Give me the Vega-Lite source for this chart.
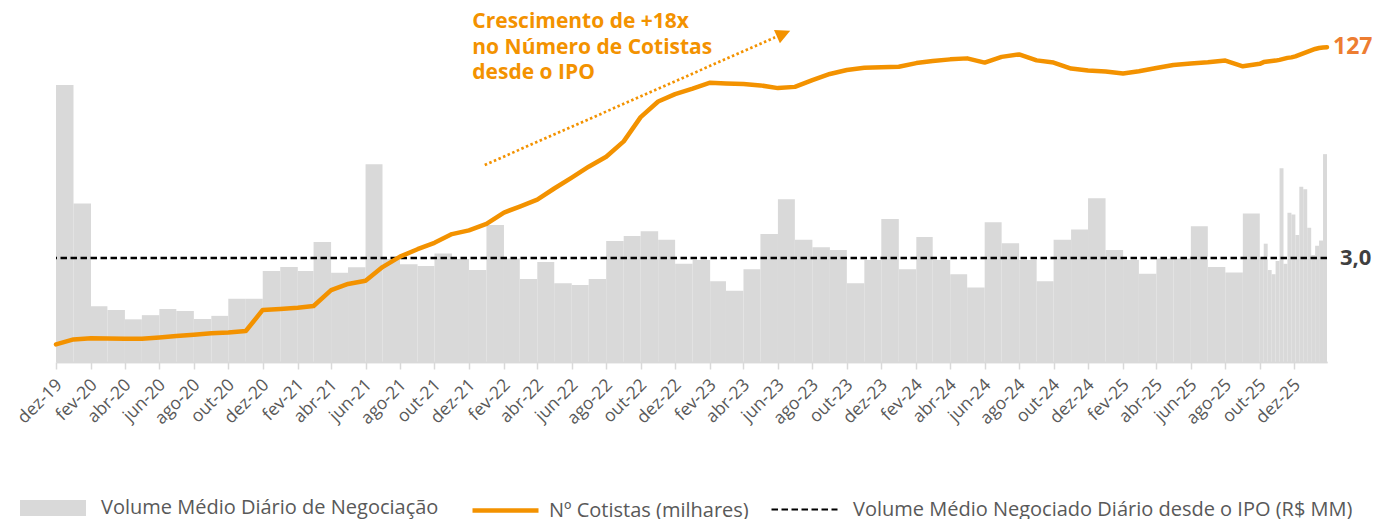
{
  "$schema": "https://vega.github.io/schema/vega-lite/v6.json",
  "width": 1271,
  "height": 347,
  "autosize": {"type": "none"},
  "padding": {"left": 56, "top": 15, "right": 47, "bottom": 157},
  "background": "white",
  "config": {
    "view": {"stroke": null},
    "font": "Open Sans",
    "axis": {"grid": false, "labelOverlap": false, "labelFlush": false, "labelBound": false},
    "axisX": {
      "labelAngle": -45,
      "labelAlign": "right",
      "labelBaseline": "middle",
      "labelFontSize": 17.5,
      "labelColor": "#595959",
      "labelFont": "Open Sans",
      "labelPadding": 13,
      "labelOffset": 3,
      "domainColor": "#D9D9D9",
      "domainWidth": 1.5,
      "tickColor": "#D9D9D9",
      "tickSize": 7,
      "tickWidth": 1.5
    },
    "legend": {"labelFontSize": 20, "labelColor": "#595959", "labelFont": "Open Sans", "labelLimit": 0, "labelOffset": 14, "title": null}
  },
  "datasets": {
    "vol": [
      {"inicio": "2019-12-01T00:00:00", "fim": "2020-01-01T00:00:00", "volume": 7.98},
      {"inicio": "2020-01-01T00:00:00", "fim": "2020-02-01T00:00:00", "volume": 4.57},
      {"inicio": "2020-02-01T00:00:00", "fim": "2020-03-01T00:00:00", "volume": 1.61},
      {"inicio": "2020-03-01T00:00:00", "fim": "2020-04-01T00:00:00", "volume": 1.50},
      {"inicio": "2020-04-01T00:00:00", "fim": "2020-05-01T00:00:00", "volume": 1.23},
      {"inicio": "2020-05-01T00:00:00", "fim": "2020-06-01T00:00:00", "volume": 1.35},
      {"inicio": "2020-06-01T00:00:00", "fim": "2020-07-01T00:00:00", "volume": 1.53},
      {"inicio": "2020-07-01T00:00:00", "fim": "2020-08-01T00:00:00", "volume": 1.47},
      {"inicio": "2020-08-01T00:00:00", "fim": "2020-09-01T00:00:00", "volume": 1.24},
      {"inicio": "2020-09-01T00:00:00", "fim": "2020-10-01T00:00:00", "volume": 1.33},
      {"inicio": "2020-10-01T00:00:00", "fim": "2020-11-01T00:00:00", "volume": 1.82},
      {"inicio": "2020-11-01T00:00:00", "fim": "2020-12-01T00:00:00", "volume": 1.82},
      {"inicio": "2020-12-01T00:00:00", "fim": "2021-01-01T00:00:00", "volume": 2.62},
      {"inicio": "2021-01-01T00:00:00", "fim": "2021-02-01T00:00:00", "volume": 2.74},
      {"inicio": "2021-02-01T00:00:00", "fim": "2021-03-01T00:00:00", "volume": 2.62},
      {"inicio": "2021-03-01T00:00:00", "fim": "2021-04-01T00:00:00", "volume": 3.46},
      {"inicio": "2021-04-01T00:00:00", "fim": "2021-05-01T00:00:00", "volume": 2.57},
      {"inicio": "2021-05-01T00:00:00", "fim": "2021-06-01T00:00:00", "volume": 2.73},
      {"inicio": "2021-06-01T00:00:00", "fim": "2021-07-01T00:00:00", "volume": 5.70},
      {"inicio": "2021-07-01T00:00:00", "fim": "2021-08-01T00:00:00", "volume": 2.97},
      {"inicio": "2021-08-01T00:00:00", "fim": "2021-09-01T00:00:00", "volume": 2.82},
      {"inicio": "2021-09-01T00:00:00", "fim": "2021-10-01T00:00:00", "volume": 2.77},
      {"inicio": "2021-10-01T00:00:00", "fim": "2021-11-01T00:00:00", "volume": 3.13},
      {"inicio": "2021-11-01T00:00:00", "fim": "2021-12-01T00:00:00", "volume": 2.97},
      {"inicio": "2021-12-01T00:00:00", "fim": "2022-01-01T00:00:00", "volume": 2.65},
      {"inicio": "2022-01-01T00:00:00", "fim": "2022-02-01T00:00:00", "volume": 3.95},
      {"inicio": "2022-02-01T00:00:00", "fim": "2022-03-01T00:00:00", "volume": 2.98},
      {"inicio": "2022-03-01T00:00:00", "fim": "2022-04-01T00:00:00", "volume": 2.39},
      {"inicio": "2022-04-01T00:00:00", "fim": "2022-05-01T00:00:00", "volume": 2.88},
      {"inicio": "2022-05-01T00:00:00", "fim": "2022-06-01T00:00:00", "volume": 2.27},
      {"inicio": "2022-06-01T00:00:00", "fim": "2022-07-01T00:00:00", "volume": 2.22},
      {"inicio": "2022-07-01T00:00:00", "fim": "2022-08-01T00:00:00", "volume": 2.39},
      {"inicio": "2022-08-01T00:00:00", "fim": "2022-09-01T00:00:00", "volume": 3.49},
      {"inicio": "2022-09-01T00:00:00", "fim": "2022-10-01T00:00:00", "volume": 3.63},
      {"inicio": "2022-10-01T00:00:00", "fim": "2022-11-01T00:00:00", "volume": 3.77},
      {"inicio": "2022-11-01T00:00:00", "fim": "2022-12-01T00:00:00", "volume": 3.52},
      {"inicio": "2022-12-01T00:00:00", "fim": "2023-01-01T00:00:00", "volume": 2.83},
      {"inicio": "2023-01-01T00:00:00", "fim": "2023-02-01T00:00:00", "volume": 2.94},
      {"inicio": "2023-02-01T00:00:00", "fim": "2023-03-01T00:00:00", "volume": 2.33},
      {"inicio": "2023-03-01T00:00:00", "fim": "2023-04-01T00:00:00", "volume": 2.05},
      {"inicio": "2023-04-01T00:00:00", "fim": "2023-05-01T00:00:00", "volume": 2.67},
      {"inicio": "2023-05-01T00:00:00", "fim": "2023-06-01T00:00:00", "volume": 3.69},
      {"inicio": "2023-06-01T00:00:00", "fim": "2023-07-01T00:00:00", "volume": 4.69},
      {"inicio": "2023-07-01T00:00:00", "fim": "2023-08-01T00:00:00", "volume": 3.52},
      {"inicio": "2023-08-01T00:00:00", "fim": "2023-09-01T00:00:00", "volume": 3.31},
      {"inicio": "2023-09-01T00:00:00", "fim": "2023-10-01T00:00:00", "volume": 3.23},
      {"inicio": "2023-10-01T00:00:00", "fim": "2023-11-01T00:00:00", "volume": 2.27},
      {"inicio": "2023-11-01T00:00:00", "fim": "2023-12-01T00:00:00", "volume": 2.94},
      {"inicio": "2023-12-01T00:00:00", "fim": "2024-01-01T00:00:00", "volume": 4.12},
      {"inicio": "2024-01-01T00:00:00", "fim": "2024-02-01T00:00:00", "volume": 2.67},
      {"inicio": "2024-02-01T00:00:00", "fim": "2024-03-01T00:00:00", "volume": 3.60},
      {"inicio": "2024-03-01T00:00:00", "fim": "2024-04-01T00:00:00", "volume": 2.94},
      {"inicio": "2024-04-01T00:00:00", "fim": "2024-05-01T00:00:00", "volume": 2.53},
      {"inicio": "2024-05-01T00:00:00", "fim": "2024-06-01T00:00:00", "volume": 2.15},
      {"inicio": "2024-06-01T00:00:00", "fim": "2024-07-01T00:00:00", "volume": 4.03},
      {"inicio": "2024-07-01T00:00:00", "fim": "2024-08-01T00:00:00", "volume": 3.42},
      {"inicio": "2024-08-01T00:00:00", "fim": "2024-09-01T00:00:00", "volume": 2.94},
      {"inicio": "2024-09-01T00:00:00", "fim": "2024-10-01T00:00:00", "volume": 2.33},
      {"inicio": "2024-10-01T00:00:00", "fim": "2024-11-01T00:00:00", "volume": 3.52},
      {"inicio": "2024-11-01T00:00:00", "fim": "2024-12-01T00:00:00", "volume": 3.82},
      {"inicio": "2024-12-01T00:00:00", "fim": "2025-01-01T00:00:00", "volume": 4.72},
      {"inicio": "2025-01-01T00:00:00", "fim": "2025-02-01T00:00:00", "volume": 3.23},
      {"inicio": "2025-02-01T00:00:00", "fim": "2025-03-01T00:00:00", "volume": 2.94},
      {"inicio": "2025-03-01T00:00:00", "fim": "2025-04-01T00:00:00", "volume": 2.54},
      {"inicio": "2025-04-01T00:00:00", "fim": "2025-05-01T00:00:00", "volume": 2.98},
      {"inicio": "2025-05-01T00:00:00", "fim": "2025-06-01T00:00:00", "volume": 2.98},
      {"inicio": "2025-06-01T00:00:00", "fim": "2025-07-01T00:00:00", "volume": 3.91},
      {"inicio": "2025-07-01T00:00:00", "fim": "2025-08-01T00:00:00", "volume": 2.74},
      {"inicio": "2025-08-01T00:00:00", "fim": "2025-09-01T00:00:00", "volume": 2.58},
      {"inicio": "2025-09-01T00:00:00", "fim": "2025-10-01T00:00:00", "volume": 4.28},
      {"inicio": "2025-10-01T00:00:00", "fim": "2025-10-08T00:00:00", "volume": 3.00},
      {"inicio": "2025-10-08T00:00:00", "fim": "2025-10-15T00:00:00", "volume": 3.41},
      {"inicio": "2025-10-15T00:00:00", "fim": "2025-10-22T00:00:00", "volume": 2.65},
      {"inicio": "2025-10-22T00:00:00", "fim": "2025-10-29T00:00:00", "volume": 2.53},
      {"inicio": "2025-10-29T00:00:00", "fim": "2025-11-05T00:00:00", "volume": 2.91},
      {"inicio": "2025-11-05T00:00:00", "fim": "2025-11-12T00:00:00", "volume": 5.58},
      {"inicio": "2025-11-12T00:00:00", "fim": "2025-11-19T00:00:00", "volume": 2.83},
      {"inicio": "2025-11-19T00:00:00", "fim": "2025-11-26T00:00:00", "volume": 4.30},
      {"inicio": "2025-11-26T00:00:00", "fim": "2025-12-03T00:00:00", "volume": 4.25},
      {"inicio": "2025-12-03T00:00:00", "fim": "2025-12-10T00:00:00", "volume": 3.66},
      {"inicio": "2025-12-10T00:00:00", "fim": "2025-12-17T00:00:00", "volume": 5.05},
      {"inicio": "2025-12-17T00:00:00", "fim": "2025-12-24T00:00:00", "volume": 4.98},
      {"inicio": "2025-12-24T00:00:00", "fim": "2025-12-31T00:00:00", "volume": 3.87},
      {"inicio": "2025-12-31T00:00:00", "fim": "2026-01-07T00:00:00", "volume": 3.08},
      {"inicio": "2026-01-07T00:00:00", "fim": "2026-01-14T00:00:00", "volume": 3.35},
      {"inicio": "2026-01-14T00:00:00", "fim": "2026-01-21T00:00:00", "volume": 3.50},
      {"inicio": "2026-01-21T00:00:00", "fim": "2026-01-28T00:00:00", "volume": 5.99}
    ],
    "cot": [
      {"data": "2019-12-01T00:00:00", "cotistas": 7.1},
      {"data": "2020-01-01T00:00:00", "cotistas": 9.1},
      {"data": "2020-02-01T00:00:00", "cotistas": 9.6},
      {"data": "2020-03-01T00:00:00", "cotistas": 9.5},
      {"data": "2020-04-01T00:00:00", "cotistas": 9.4},
      {"data": "2020-05-01T00:00:00", "cotistas": 9.4},
      {"data": "2020-06-01T00:00:00", "cotistas": 9.9},
      {"data": "2020-07-01T00:00:00", "cotistas": 10.5},
      {"data": "2020-08-01T00:00:00", "cotistas": 11.0},
      {"data": "2020-09-01T00:00:00", "cotistas": 11.6},
      {"data": "2020-10-01T00:00:00", "cotistas": 11.9},
      {"data": "2020-11-01T00:00:00", "cotistas": 12.5},
      {"data": "2020-12-01T00:00:00", "cotistas": 21.0},
      {"data": "2021-01-01T00:00:00", "cotistas": 21.4},
      {"data": "2021-02-01T00:00:00", "cotistas": 21.9},
      {"data": "2021-03-01T00:00:00", "cotistas": 22.6},
      {"data": "2021-04-01T00:00:00", "cotistas": 29.0},
      {"data": "2021-05-01T00:00:00", "cotistas": 31.5},
      {"data": "2021-06-01T00:00:00", "cotistas": 32.8},
      {"data": "2021-07-01T00:00:00", "cotistas": 38.3},
      {"data": "2021-08-01T00:00:00", "cotistas": 42.5},
      {"data": "2021-09-01T00:00:00", "cotistas": 45.5},
      {"data": "2021-10-01T00:00:00", "cotistas": 48.1},
      {"data": "2021-11-01T00:00:00", "cotistas": 51.6},
      {"data": "2021-12-01T00:00:00", "cotistas": 53.1},
      {"data": "2022-01-01T00:00:00", "cotistas": 55.7},
      {"data": "2022-02-01T00:00:00", "cotistas": 60.3},
      {"data": "2022-03-01T00:00:00", "cotistas": 62.7},
      {"data": "2022-04-01T00:00:00", "cotistas": 65.5},
      {"data": "2022-05-01T00:00:00", "cotistas": 70.0},
      {"data": "2022-06-01T00:00:00", "cotistas": 74.4},
      {"data": "2022-07-01T00:00:00", "cotistas": 78.8},
      {"data": "2022-08-01T00:00:00", "cotistas": 82.8},
      {"data": "2022-09-01T00:00:00", "cotistas": 89.0},
      {"data": "2022-10-01T00:00:00", "cotistas": 98.8},
      {"data": "2022-11-01T00:00:00", "cotistas": 105.1},
      {"data": "2022-12-01T00:00:00", "cotistas": 108.1},
      {"data": "2023-01-01T00:00:00", "cotistas": 110.3},
      {"data": "2023-02-01T00:00:00", "cotistas": 112.7},
      {"data": "2023-03-01T00:00:00", "cotistas": 112.4},
      {"data": "2023-04-01T00:00:00", "cotistas": 112.2},
      {"data": "2023-05-01T00:00:00", "cotistas": 111.6},
      {"data": "2023-06-01T00:00:00", "cotistas": 110.5},
      {"data": "2023-07-01T00:00:00", "cotistas": 111.0},
      {"data": "2023-08-01T00:00:00", "cotistas": 113.7},
      {"data": "2023-09-01T00:00:00", "cotistas": 116.2},
      {"data": "2023-10-01T00:00:00", "cotistas": 117.8},
      {"data": "2023-11-01T00:00:00", "cotistas": 118.7},
      {"data": "2023-12-01T00:00:00", "cotistas": 118.9},
      {"data": "2024-01-01T00:00:00", "cotistas": 119.1},
      {"data": "2024-02-01T00:00:00", "cotistas": 120.6},
      {"data": "2024-03-01T00:00:00", "cotistas": 121.4},
      {"data": "2024-04-01T00:00:00", "cotistas": 122.1},
      {"data": "2024-05-01T00:00:00", "cotistas": 122.5},
      {"data": "2024-06-01T00:00:00", "cotistas": 120.8},
      {"data": "2024-07-01T00:00:00", "cotistas": 123.1},
      {"data": "2024-08-01T00:00:00", "cotistas": 124.1},
      {"data": "2024-09-01T00:00:00", "cotistas": 121.7},
      {"data": "2024-10-01T00:00:00", "cotistas": 120.8},
      {"data": "2024-11-01T00:00:00", "cotistas": 118.4},
      {"data": "2024-12-01T00:00:00", "cotistas": 117.6},
      {"data": "2025-01-01T00:00:00", "cotistas": 117.2},
      {"data": "2025-02-01T00:00:00", "cotistas": 116.4},
      {"data": "2025-03-01T00:00:00", "cotistas": 117.3},
      {"data": "2025-04-01T00:00:00", "cotistas": 118.6},
      {"data": "2025-05-01T00:00:00", "cotistas": 119.8},
      {"data": "2025-06-01T00:00:00", "cotistas": 120.4},
      {"data": "2025-07-01T00:00:00", "cotistas": 120.9},
      {"data": "2025-08-01T00:00:00", "cotistas": 121.6},
      {"data": "2025-09-01T00:00:00", "cotistas": 119.3},
      {"data": "2025-10-01T00:00:00", "cotistas": 120.3},
      {"data": "2025-10-08T00:00:00", "cotistas": 121.0},
      {"data": "2025-10-15T00:00:00", "cotistas": 121.2},
      {"data": "2025-10-22T00:00:00", "cotistas": 121.4},
      {"data": "2025-10-29T00:00:00", "cotistas": 121.6},
      {"data": "2025-11-05T00:00:00", "cotistas": 121.9},
      {"data": "2025-11-12T00:00:00", "cotistas": 122.3},
      {"data": "2025-11-19T00:00:00", "cotistas": 122.7},
      {"data": "2025-11-26T00:00:00", "cotistas": 122.9},
      {"data": "2025-12-03T00:00:00", "cotistas": 123.3},
      {"data": "2025-12-10T00:00:00", "cotistas": 123.9},
      {"data": "2025-12-17T00:00:00", "cotistas": 124.5},
      {"data": "2025-12-24T00:00:00", "cotistas": 125.1},
      {"data": "2025-12-31T00:00:00", "cotistas": 125.7},
      {"data": "2026-01-07T00:00:00", "cotistas": 126.3},
      {"data": "2026-01-14T00:00:00", "cotistas": 126.7},
      {"data": "2026-01-21T00:00:00", "cotistas": 126.9},
      {"data": "2026-01-28T00:00:00", "cotistas": 127.0}
    ]
  },
  "layer": [
    {
      "layer": [
        {
          "data": {"name": "vol"},
          "mark": {"type": "bar"},
          "encoding": {
            "x": {
              "field": "inicio",
              "type": "temporal",
              "scale": {
                "domain": [{"year": 2019, "month": 12, "date": 1}, {"year": 2026, "month": 1, "date": 28}],
                "nice": false
              },
              "axis": {
                "title": null,
                "orient": "bottom",
                "values": [
                  {"year": 2019, "month": 12, "date": 1},
                  {"year": 2020, "month": 4, "date": 1}, {"year": 2020, "month": 8, "date": 1}, {"year": 2020, "month": 12, "date": 1},
                  {"year": 2021, "month": 4, "date": 1}, {"year": 2021, "month": 8, "date": 1}, {"year": 2021, "month": 12, "date": 1},
                  {"year": 2022, "month": 4, "date": 1}, {"year": 2022, "month": 8, "date": 1}, {"year": 2022, "month": 12, "date": 1},
                  {"year": 2023, "month": 4, "date": 1}, {"year": 2023, "month": 8, "date": 1}, {"year": 2023, "month": 12, "date": 1},
                  {"year": 2024, "month": 4, "date": 1}, {"year": 2024, "month": 8, "date": 1}, {"year": 2024, "month": 12, "date": 1},
                  {"year": 2025, "month": 4, "date": 1}, {"year": 2025, "month": 8, "date": 1}, {"year": 2025, "month": 12, "date": 1}
                ],
                "labelExpr": "['jan','fev','mar','abr','mai','jun','jul','ago','set','out','nov','dez'][month(datum.value)] + '-' + timeFormat(datum.value, '%y')",
                "labelOverlap": false,
                "grid": false
              }
            },
            "x2": {"field": "fim"},
            "y": {
              "field": "volume",
              "type": "quantitative",
              "scale": {"domain": [0, 10], "nice": false, "zero": true},
              "axis": null
            },
            "y2": {"datum": 0},
            "fill": {
              "datum": "Volume Médio Diário de Negociação",
              "type": "nominal",
              "scale": {"range": ["#D9D9D9"]},
              "legend": {
                "orient": "none",
                "legendX": -36,
                "legendY": 460,
                "symbolType": "M-1,-0.24L1,-0.24L1,0.24L-1,0.24Z",
                "symbolSize": 4356,
                "symbolStrokeWidth": 0,
                "labelOffset": 15
              }
            }
          }
        },
        {
          "data": {"values": [{}]},
          "mark": {"type": "rule", "strokeWidth": 2.5, "color": "#000000"},
          "encoding": {
            "y": {"datum": 3, "type": "quantitative"},
            "strokeDash": {
              "datum": "Volume Médio Negociado Diário desde o IPO (R$ MM)",
              "type": "nominal",
              "scale": {"range": [[6.5, 3.5]]},
              "legend": {
                "orient": "none",
                "legendX": 714,
                "legendY": 460,
                "symbolType": "stroke",
                "symbolSize": 4356,
                "symbolStrokeWidth": 2.2,
                "symbolStrokeColor": "#000000",
                "labelOffset": 14
              }
            }
          }
        },
        {
          "data": {"values": [{}]},
          "mark": {"type": "text", "text": "3,0", "align": "left", "baseline": "middle", "dx": 13, "fontSize": 22, "fontWeight": "bold", "color": "#404040", "font": "Open Sans"},
          "encoding": {
            "x": {"datum": {"year": 2026, "month": 1, "date": 28}, "type": "temporal"},
            "y": {"datum": 3, "type": "quantitative"}
          }
        }
      ]
    },
    {
      "layer": [
        {
          "data": {"name": "cot"},
          "mark": {"type": "line", "strokeWidth": 4.5, "strokeJoin": "round", "strokeCap": "round"},
          "encoding": {
            "x": {
              "field": "data",
              "type": "temporal",
              "axis": {
                "title": null,
                "orient": "bottom",
                "values": [
                  {"year": 2020, "month": 2, "date": 1}, {"year": 2020, "month": 6, "date": 1}, {"year": 2020, "month": 10, "date": 1},
                  {"year": 2021, "month": 2, "date": 1}, {"year": 2021, "month": 6, "date": 1}, {"year": 2021, "month": 10, "date": 1},
                  {"year": 2022, "month": 2, "date": 1}, {"year": 2022, "month": 6, "date": 1}, {"year": 2022, "month": 10, "date": 1},
                  {"year": 2023, "month": 2, "date": 1}, {"year": 2023, "month": 6, "date": 1}, {"year": 2023, "month": 10, "date": 1},
                  {"year": 2024, "month": 2, "date": 1}, {"year": 2024, "month": 6, "date": 1}, {"year": 2024, "month": 10, "date": 1},
                  {"year": 2025, "month": 2, "date": 1}, {"year": 2025, "month": 6, "date": 1}, {"year": 2025, "month": 10, "date": 1}
                ],
                "labelExpr": "['jan','fev','mar','abr','mai','jun','jul','ago','set','out','nov','dez'][month(datum.value)] + '-' + timeFormat(datum.value, '%y')",
                "labelOverlap": false,
                "grid": false
              }
            },
            "y": {"field": "cotistas", "type": "quantitative", "scale": {"domain": [0, 140], "nice": false}, "axis": null},
            "stroke": {
              "datum": "Nº Cotistas (milhares)",
              "type": "nominal",
              "scale": {"range": ["#F39200"]},
              "legend": {
                "orient": "none",
                "legendX": 414,
                "legendY": 460,
                "symbolType": "stroke",
                "symbolSize": 4356,
                "symbolStrokeWidth": 4.5,
                "labelOffset": 8
              }
            }
          }
        },
        {
          "data": {"name": "cot"},
          "transform": [{"filter": "time(datum.data) === time(datetime(2026, 0, 28))"}],
          "mark": {"type": "text", "align": "left", "baseline": "middle", "dx": 6, "fontSize": 23, "fontWeight": "bold", "color": "#ED7D31", "font": "Open Sans"},
          "encoding": {
            "x": {"field": "data", "type": "temporal"},
            "y": {"field": "cotistas", "type": "quantitative"},
            "text": {"field": "cotistas", "type": "quantitative", "format": ".0f"}
          }
        },
        {
          "data": {"values": [{}]},
          "mark": {"type": "text", "text": ["Crescimento de +18x", "no Número de Cotistas", "desde o IPO"], "align": "left", "baseline": "alphabetic", "fontSize": 21, "fontWeight": "bold", "lineHeight": 25.7, "color": "#F39200", "font": "Open Sans"},
          "encoding": {
            "x": {"datum": {"year": 2021, "month": 12, "date": 7}, "type": "temporal"},
            "y": {"datum": 134.8, "type": "quantitative"}
          }
        },
        {
          "data": {"values": [{}]},
          "mark": {"type": "rule", "strokeDash": [2.5, 2.5], "strokeWidth": 2.7, "color": "#F39200"},
          "encoding": {
            "x": {"datum": {"year": 2021, "month": 12, "date": 29}, "type": "temporal"},
            "x2": {"datum": {"year": 2023, "month": 5, "date": 27}},
            "y": {"datum": 79.5, "type": "quantitative"},
            "y2": {"datum": 131.0}
          }
        },
        {
          "data": {"values": [{}]},
          "mark": {"type": "point", "shape": "M0,-1L1,1L-1,1Z", "filled": true, "opacity": 1, "size": 210, "angle": 66, "color": "#F39200"},
          "encoding": {
            "x": {"datum": {"year": 2023, "month": 6, "date": 11}, "type": "temporal"},
            "y": {"datum": 132.5, "type": "quantitative"}
          }
        }
      ]
    }
  ],
  "resolve": {"scale": {"y": "independent"}, "axis": {"x": "independent"}}
}
